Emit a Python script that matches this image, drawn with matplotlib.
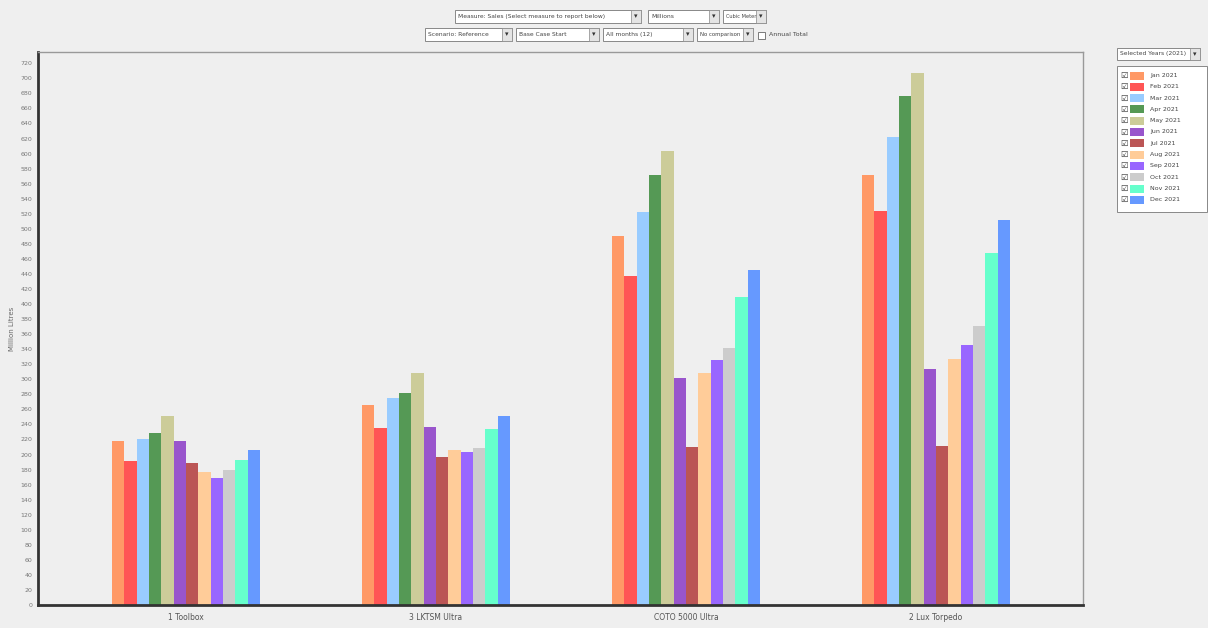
import matplotlib.pyplot as plt
import matplotlib.patches as mpatches
import numpy as np

products = ["1 Toolbox", "3 LKTSM Ultra", "COTO 5000 Ultra", "2 Lux Torpedo"]
months = ["Jan 2021", "Feb 2021", "Mar 2021", "Apr 2021", "May 2021", "Jun 2021",
          "Jul 2021", "Aug 2021", "Sep 2021", "Oct 2021", "Nov 2021", "Dec 2021"]
colors = ["#FF9966", "#FF5555", "#99CCFF", "#559955", "#CCCC99", "#9955CC",
          "#BB5555", "#FFCC99", "#9966FF", "#CCCCCC", "#66FFCC", "#6699FF"]

# values per month, one number for each product
jan = [218, 266, 490, 572]
feb = [191, 235, 437, 524]
mar = [220, 275, 522, 622]
apr = [229, 282, 571, 677]
may = [251, 308, 604, 707]
jun = [218, 237, 302, 314]
jul = [189, 197, 210, 211]
aug = [177, 206, 308, 327]
sep = [169, 204, 326, 346]
oct_ = [180, 209, 342, 371]
nov = [193, 234, 410, 468]
dec = [206, 251, 445, 512]
series = [jan, feb, mar, apr, may, jun, jul, aug, sep, oct_, nov, dec]

bg = "#EFEFEF"
fig = plt.figure(figsize=(12.08, 6.28), dpi=100, facecolor=bg)
ax = fig.add_axes([38 / 1208, 1 - 605 / 628, (1083 - 38) / 1208, (605 - 52) / 628])
ax.set_facecolor(bg)

x = np.arange(len(products))
w = 0.0493
for i, vals in enumerate(series):
    ax.bar(x - 6 * w + (i + 0.5) * w, vals, w, color=colors[i], label=months[i])

ax.set_xlim(-0.592, 3.588)
ax.set_ylim(0, 735)
ax.set_yticks(np.arange(0, 721, 20))
ax.tick_params(axis="y", labelsize=4.5, length=0, colors="#777777", pad=4)
ax.set_xticks(x)
ax.set_xticklabels(products, fontsize=5.5, color="#555555")
ax.tick_params(axis="x", length=0, pad=6)
ax.set_ylabel("Million Litres", fontsize=5, color="#666666", labelpad=4)
for s in ["left", "bottom"]:
    ax.spines[s].set_linewidth(2)
    ax.spines[s].set_color("#333333")
for s in ["top", "right"]:
    ax.spines[s].set_linewidth(1)
    ax.spines[s].set_color("#999999")


def dropdown(x0, y0, x1, y1, text, fs=4.3):
    fig.patches.append(mpatches.Rectangle((x0 / 1208, 1 - y1 / 628), (x1 - x0) / 1208,
                                          (y1 - y0) / 628, transform=fig.transFigure,
                                          facecolor="white", edgecolor="#888888", lw=0.7))
    fig.patches.append(mpatches.Rectangle(((x1 - 10) / 1208, 1 - y1 / 628), 10 / 1208,
                                          (y1 - y0) / 628, transform=fig.transFigure,
                                          facecolor="#E4E4E4", edgecolor="#888888", lw=0.5))
    fig.text((x1 - 5) / 1208, 1 - (y0 + y1) / 2 / 628, "▾", fontsize=5,
             ha="center", va="center", color="#333333")
    fig.text((x0 + 3) / 1208, 1 - (y0 + y1) / 2 / 628, text, fontsize=fs,
             ha="left", va="center", color="#444444")


dropdown(455, 10, 641, 23, "Measure: Sales (Select measure to report below)")
dropdown(648, 10, 719, 23, "Millions")
dropdown(723, 10, 766, 23, "Cubic Meter", fs=3.6)
dropdown(425, 28, 512, 41, "Scenario: Reference")
dropdown(516, 28, 599, 41, "Base Case Start")
dropdown(603, 28, 693, 41, "All months (12)")
dropdown(697, 28, 753, 41, "No comparison", fs=3.9)
fig.patches.append(mpatches.Rectangle((758 / 1208, 1 - 39 / 628), 7 / 1208, 7 / 628,
                                      transform=fig.transFigure, facecolor="white",
                                      edgecolor="#666666", lw=0.6))
fig.text(769 / 1208, 1 - 35 / 628, "Annual Total", fontsize=4.5, va="center", color="#444444")

# legend panel on the right
dropdown(1117, 48, 1200, 60, "Selected Years (2021)")
fig.patches.append(mpatches.Rectangle((1117 / 1208, 1 - 212 / 628), 90 / 1208, 146 / 628,
                                      transform=fig.transFigure, facecolor="white",
                                      edgecolor="#888888", lw=0.7))
for i, m in enumerate(months):
    yc = 75.5 + i * 11.3
    fig.text(1124 / 1208, 1 - yc / 628, "☑", fontsize=6, ha="center", va="center",
             color="#333333")
    fig.patches.append(mpatches.Rectangle((1130 / 1208, 1 - (yc + 4) / 628), 14 / 1208,
                                          8 / 628, transform=fig.transFigure,
                                          facecolor=colors[i], edgecolor="none"))
    fig.text(1150 / 1208, 1 - yc / 628, m, fontsize=4.5, va="center", color="#444444")

plt.savefig("out.png", dpi=100, facecolor=bg)
